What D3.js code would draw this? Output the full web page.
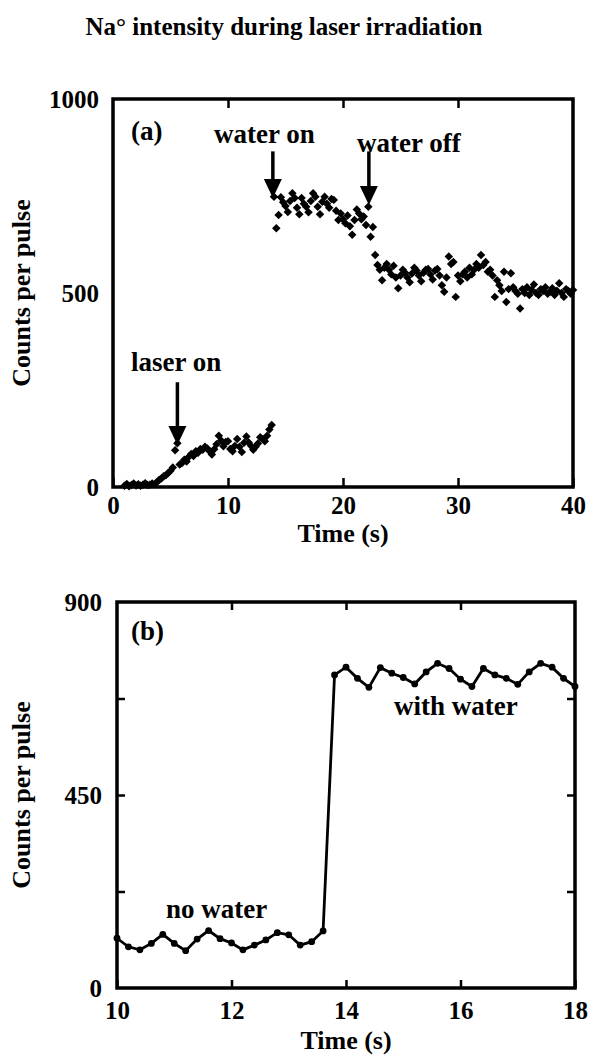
<!DOCTYPE html>
<html lang="en">
<head>
    <meta charset="UTF-8">
    <title>Na intensity during laser irradiation</title>
    <script src="https://d3js.org/d3.v7.min.js"></script>
    <style>
        body { margin: 0; background: #fff; }
        text { font-family: "Liberation Serif", "Times New Roman", serif; font-weight: bold; fill: #000; }
    </style>
</head>
<body>

<div id="chart"></div>

<script>
    // panel (a): counts per pulse, sampled every 0.2 s starting at 1.0 s
    var aStart = 1.0, aStep = 0.2;
    var aCounts = [
        3, 8, 2, 5, 9, 4, 7, 3, 6, 10,              // 1.0 - 2.8
        5, 6, 9, 7, 12, 18, 22, 28, 30, 36,         // 3.0 - 4.8
        42, 50, 95, 113, 58, 62, 70, 66, 78, 85,    // 5.0 - 6.8
        80, 92, 88, 98, 96, 104, 99, 92, 84, 97,    // 7.0 - 8.8
        110, 132, 120, 105, 116, 118, 98, 92, 106, 124,
        104, 90, 114, 130, 115, 106, 96, 104, 112, 128,
        124, 118, 132, 148, 160, 748, 667, 701, 747, 734,   // 13.0 - 14.8
        724, 709, 737, 757, 745, 720, 703, 745, 730, 722,
        708, 737, 757, 748, 722, 703, 735, 748, 730, 720,
        742, 740, 712, 688, 705, 690, 680, 700, 672, 650,   // 19.0 - 20.8
        688, 715, 705, 690, 697, 675, 722, 645, 670, 598,
        572, 560, 533, 565, 575, 560, 548, 570, 540, 512,   // 23.0 - 24.8
        545, 560, 552, 540, 528, 550, 565, 558, 545, 530,
        552, 560, 562, 548, 535, 558, 562, 545, 520, 503,
        540, 594, 575, 580, 490, 545, 530, 548, 555, 540,
        565, 548, 560, 575, 565, 598, 572, 580, 555, 560,
        545, 490, 533, 520, 505, 555, 477, 510, 551, 515,
        505, 498, 460, 510, 500, 515, 495, 508, 522, 500,   // 35.0 - 36.8
        495, 510, 505, 515, 498, 503, 512, 495, 506, 525,
        500, 490, 510, 505, 498, 508                        // 39.0 - 40.0
    ];
    var aXTicks = [0, 10, 20, 30, 40];
    var aYTicks = [0, 500, 1000];

    // panel (b): zoom on 10 - 18 s
    var bTime = [10.0, 10.2, 10.4, 10.6, 10.8, 11.0, 11.2, 11.4, 11.6, 11.8,
                 12.0, 12.2, 12.4, 12.6, 12.8, 13.0, 13.2, 13.4, 13.6, 13.8,
                 14.0, 14.2, 14.4, 14.6, 14.8, 15.0, 15.2, 15.4, 15.6, 15.8,
                 16.0, 16.2, 16.4, 16.6, 16.8, 17.0, 17.2, 17.4, 17.6, 17.8, 18.0];
    var bCounts = [116, 96, 89, 104, 125, 104, 87, 114, 134, 115,
                   105, 89, 100, 112, 129, 124, 100, 108, 133, 730,
                   748, 722, 701, 747, 734, 724, 709, 737, 757, 745,
                   720, 703, 745, 730, 722, 708, 737, 757, 748, 722, 703];
    var bXTicks = [10, 12, 14, 16, 18];
    var bYLabels = [0, 450, 900];
    var bYTicks = [225, 450, 675];

    var W = 591, H = 1062;
    var svg = d3.select("#chart").append("svg")
        .attr("width", W).attr("height", H);

    svg.append("text")
        .attr("x", 284).attr("y", 35)
        .attr("text-anchor", "middle")
        .style("font-size", "25px")
        .text("Na° intensity during laser irradiation");

    // ---------- panel (a) ----------
    var xa = d3.scaleLinear().domain([0, 40]).range([113, 573]);
    var ya = d3.scaleLinear().domain([0, 1000]).range([487, 99]);

    var aData = aCounts.map(function (v, i) { return { t: aStart + i * aStep, v: v }; });

    var ga = svg.append("g");

    ga.append("g")
        .attr("transform", "translate(0," + ya(0) + ")")
        .call(d3.axisBottom(xa).tickValues(aXTicks).tickSizeInner(-9).tickSizeOuter(0).tickPadding(9))
        .call(styleAxis);
    ga.append("g")
        .attr("transform", "translate(0," + ya(1000) + ")")
        .call(d3.axisTop(xa).tickValues(aXTicks.slice(1, -1)).tickSizeInner(-9).tickSizeOuter(0).tickFormat(""))
        .call(styleAxis);
    ga.append("g")
        .attr("transform", "translate(" + xa(0) + ",0)")
        .call(d3.axisLeft(ya).tickValues(aYTicks).tickSize(0).tickPadding(14).tickFormat(d3.format("d")))
        .call(styleAxis);

    ga.append("rect")
        .attr("x", xa(0)).attr("y", ya(1000))
        .attr("width", xa(40) - xa(0)).attr("height", ya(0) - ya(1000))
        .attr("fill", "none").attr("stroke", "#000").attr("stroke-width", 3.5);

    var diamond = d3.symbol().type(d3.symbolSquare).size(36);
    ga.append("g").selectAll("path")
        .data(aData)
        .enter().append("path")
        .attr("d", diamond)
        .attr("fill", "#000")
        .attr("transform", function (d) { return "translate(" + xa(d.t) + "," + ya(d.v) + ") rotate(45)"; });

    ga.append("text").attr("x", 343).attr("y", 542).attr("text-anchor", "middle")
        .style("font-size", "26px").text("Time (s)");
    ga.append("text").attr("transform", "translate(30," + ((ya(0) + ya(1000)) / 2) + ") rotate(-90)")
        .attr("text-anchor", "middle").style("font-size", "26px").text("Counts per pulse");

    ga.append("text").attr("x", 131).attr("y", 140).style("font-size", "27px").text("(a)");
    ga.append("text").attr("x", 214).attr("y", 143).style("font-size", "27px").text("water on");
    ga.append("text").attr("x", 357).attr("y", 152).style("font-size", "27px").text("water off");
    ga.append("text").attr("x", 131).attr("y", 371).style("font-size", "27px").text("laser on");

    arrow(ga, xa(5.6), ya(270), ya(108));
    arrow(ga, xa(13.9), ya(865), ya(745));
    arrow(ga, xa(22.25), ya(865), ya(727));

    // ---------- panel (b) ----------
    var xb = d3.scaleLinear().domain([10, 18]).range([117, 575]);
    var yb = d3.scaleLinear().domain([0, 900]).range([988, 602]);

    var bData = bTime.map(function (t, i) { return { t: t, v: bCounts[i] }; });

    var gb = svg.append("g");

    gb.append("g")
        .attr("transform", "translate(0," + yb(0) + ")")
        .call(d3.axisBottom(xb).tickValues(bXTicks).tickSizeInner(-8).tickSizeOuter(0).tickPadding(13))
        .call(styleAxis);
    gb.append("g")
        .attr("transform", "translate(0," + yb(900) + ")")
        .call(d3.axisTop(xb).tickValues(bXTicks.slice(1, -1)).tickSizeInner(-8).tickSizeOuter(0).tickFormat(""))
        .call(styleAxis);
    gb.append("g")
        .attr("transform", "translate(" + xb(10) + ",0)")
        .call(d3.axisLeft(yb).tickValues(bYLabels).tickSize(0).tickPadding(15))
        .call(styleAxis);
    gb.append("g")
        .attr("transform", "translate(" + xb(10) + ",0)")
        .call(d3.axisLeft(yb).tickValues(bYTicks).tickSizeInner(-8).tickSizeOuter(0).tickFormat(""))
        .call(styleAxis);
    gb.append("g")
        .attr("transform", "translate(" + xb(18) + ",0)")
        .call(d3.axisRight(yb).tickValues(bYTicks).tickSizeInner(-8).tickSizeOuter(0).tickFormat(""))
        .call(styleAxis);

    gb.append("rect")
        .attr("x", xb(10)).attr("y", yb(900))
        .attr("width", xb(18) - xb(10)).attr("height", yb(0) - yb(900))
        .attr("fill", "none").attr("stroke", "#000").attr("stroke-width", 3.5);

    var line = d3.line().x(function (d) { return xb(d.t); }).y(function (d) { return yb(d.v); });
    gb.append("path").datum(bData)
        .attr("d", line).attr("fill", "none")
        .attr("stroke", "#000").attr("stroke-width", 2.8);
    gb.append("g").selectAll("circle")
        .data(bData)
        .enter().append("circle")
        .attr("cx", function (d) { return xb(d.t); })
        .attr("cy", function (d) { return yb(d.v); })
        .attr("r", 3.4).attr("fill", "#000");

    gb.append("text").attr("x", 346).attr("y", 1049).attr("text-anchor", "middle")
        .style("font-size", "26px").text("Time (s)");
    gb.append("text").attr("transform", "translate(30," + ((yb(0) + yb(900)) / 2) + ") rotate(-90)")
        .attr("text-anchor", "middle").style("font-size", "26px").text("Counts per pulse");

    gb.append("text").attr("x", 131).attr("y", 640).style("font-size", "27px").text("(b)");
    gb.append("text").attr("x", 166).attr("y", 918).style("font-size", "27px").text("no water");
    gb.append("text").attr("x", 394).attr("y", 715).style("font-size", "27px").text("with water");

    function styleAxis(g) {
        g.select(".domain").remove();
        g.selectAll("line").attr("stroke", "#000").attr("stroke-width", 2.5);
        g.selectAll("text").style("font-size", "25px")
            .style("font-family", "'Liberation Serif', 'Times New Roman', serif")
            .style("font-weight", "bold").attr("fill", "#000");
    }

    // vertical arrow pointing down, ending at yTip
    function arrow(g, x, yTop, yTip) {
        var head = 19, half = 9;
        g.append("line")
            .attr("x1", x).attr("x2", x)
            .attr("y1", yTop).attr("y2", yTip - head + 2)
            .attr("stroke", "#000").attr("stroke-width", 3.5);
        g.append("path")
            .attr("d", "M" + (x - half) + "," + (yTip - head) + "L" + (x + half) + "," + (yTip - head) + "L" + x + "," + yTip + "Z")
            .attr("fill", "#000");
    }
</script>

</body>
</html>
